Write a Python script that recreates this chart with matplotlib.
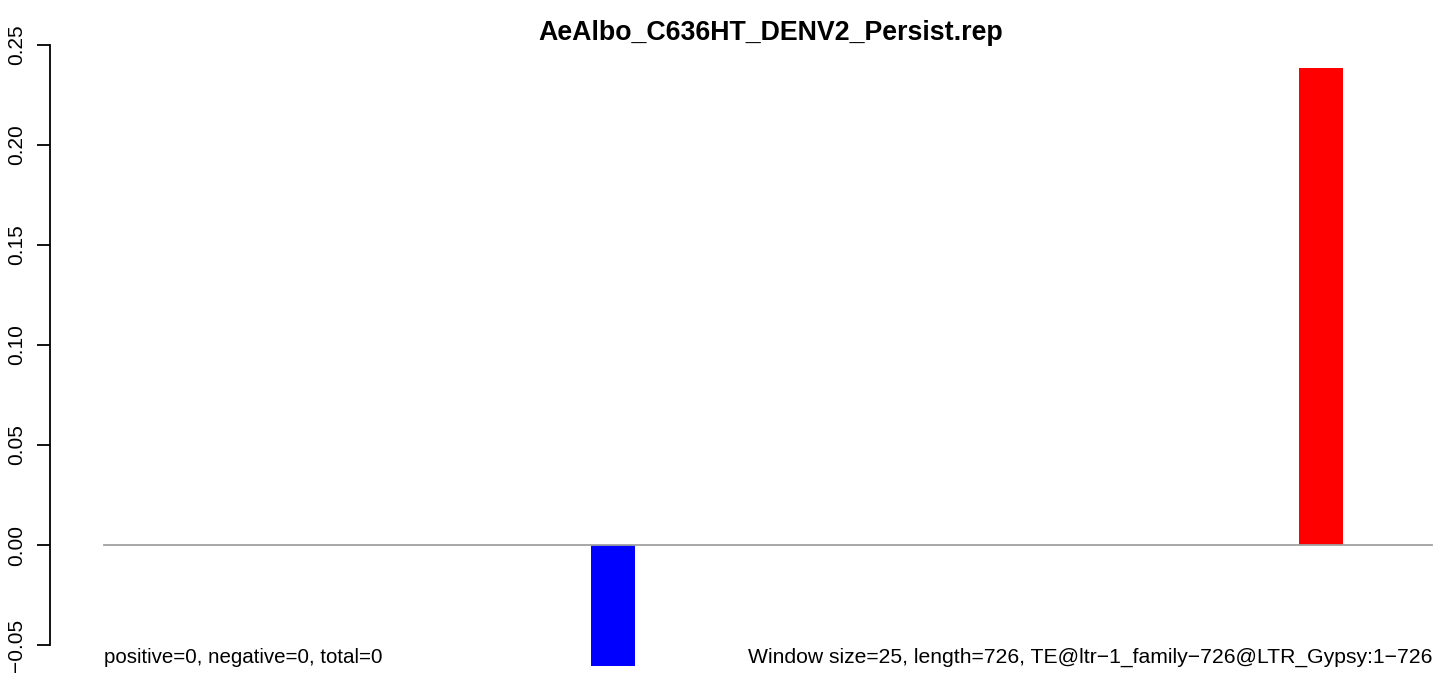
import numpy as np
import matplotlib
matplotlib.use("Agg")
import matplotlib.pyplot as plt

TITLE = "AeAlbo_C636HT_DENV2_Persist.rep"
N_WINDOWS = 30
BAR_INDEX = [11, 27]
BAR_VALUES = [-0.0603, 0.2385]
BAR_COLORS = ["#0000FF", "#FF0000"]
Y_TICKS = [-0.05, 0.00, 0.05, 0.10, 0.15, 0.20, 0.25]
LEFT_NOTE = "positive=0, negative=0, total=0"
RIGHT_NOTE = "Window size=25, length=726, TE@ltr\u22121_family\u2212726@LTR_Gypsy:1\u2212726"

W, H = 1452, 677
plt.rcParams["font.family"] = ["Liberation Sans", "DejaVu Sans"]

fig = plt.figure(figsize=(W / 100, H / 100), dpi=100)
# axes: left edge at the y axis line (px 50), spans to right edge of image
ax = fig.add_axes([50 / W, 0, 1 - 50 / W, 1])

px_per_unit = (1432 - 104) / N_WINDOWS
ax.set_xlim(-(104 - 50) / px_per_unit, N_WINDOWS + (W - 1432) / px_per_unit)
# 0.05 per 100 px, zero at y=545
ax.set_ylim(-(H - 545) / 2000, 545 / 2000)

ax.bar(BAR_INDEX, BAR_VALUES, width=1.0, align="edge", color=BAR_COLORS, linewidth=0, zorder=2)
ax.plot([0, N_WINDOWS], [0, 0], color="#A0A0A0", lw=1.3, zorder=3)

for s in ["top", "right", "bottom"]:
    ax.spines[s].set_visible(False)
ax.spines["left"].set_bounds(Y_TICKS[0], Y_TICKS[-1])
ax.spines["left"].set_linewidth(1.3)
ax.set_xticks([])
ax.set_yticks(Y_TICKS)
ax.set_yticklabels([f"{t:.2f}".replace("-", "\u2212") for t in Y_TICKS],
                   rotation=90, va="center", fontsize=15)
ax.tick_params(axis="y", length=9.5, width=1.3, pad=8)

ax.text(0, -0.0561, LEFT_NOTE, ha="left", va="center", fontsize=14.8)
ax.text(N_WINDOWS, -0.0561, RIGHT_NOTE, ha="right", va="center", fontsize=15.2)

fig.text(771 / W, 1 - 33 / H, TITLE, ha="center", va="center", fontsize=19.3, fontweight="bold")

fig.savefig("out.png", dpi=100)
